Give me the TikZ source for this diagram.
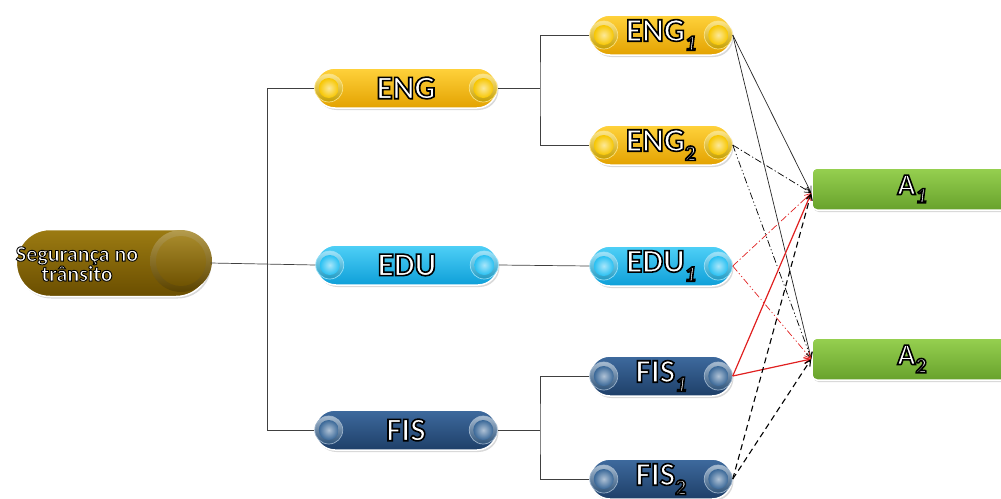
\documentclass[tikz,border=0pt]{standalone}
\usepackage{fontspec}
\setmainfont{Carlito}[BoldFont={Carlito Bold},ItalicFont={Carlito Italic},BoldItalicFont={Carlito Bold Italic}]
\usetikzlibrary{shapes.misc,arrows.meta,shadows,calc}
\definecolor{engT}{HTML}{FFD23C}
\definecolor{engB}{HTML}{E3A200}
\definecolor{engK}{HTML}{F7C600}
\definecolor{eduT}{HTML}{4FD0F7}
\definecolor{eduB}{HTML}{0E9FD8}
\definecolor{eduK}{HTML}{28C0F2}
\definecolor{fisT}{HTML}{3E6A9E}
\definecolor{fisB}{HTML}{1E3F68}
\definecolor{fisK}{HTML}{3A6898}
\definecolor{rootT}{HTML}{9C7B12}
\definecolor{rootB}{HTML}{6A4E00}
\definecolor{aT}{HTML}{96D050}
\definecolor{aB}{HTML}{68A22C}
\definecolor{edgeg}{HTML}{404040}
\definecolor{redl}{HTML}{E02020}
\newcommand\ow[2][1.6]{\special{pdf:literal direct 0 0 0 RG #1 w 2 Tr}#2\special{pdf:literal direct 0 Tr}}
\newcommand\sbi[1]{\raisebox{-0.28em}{\fontsize{22}{22}\selectfont\itshape #1}}
\newcommand\sbu[1]{\raisebox{-0.28em}{\fontsize{22}{22}\selectfont #1}}
\newcommand\oneknob[2]{%
  \shade[top color=#2!45!white, bottom color=#2!80!black, draw=white!50!#2, line width=0.7pt] #1 circle (14pt);
  \shade[inner color=#2!40!white, outer color=#2] #1 circle (10pt);}
\newcommand\knobs[2]{%
  \oneknob{($(#1.west)+(14.5,0)$)}{#2}%
  \oneknob{($(#1.east)+(-14.5,0)$)}{#2}}
\begin{document}
\begin{tikzpicture}[x=1pt,y=-1pt,
  line/.style={draw=edgeg, line width=0.7pt},
  pill/.style={rounded rectangle, draw=white, line width=1.5pt, minimum height=40pt,
     inner sep=0pt, drop shadow={opacity=0.3, shadow xshift=1.5pt, shadow yshift=-2pt},
     font=\fontsize{33}{36}\selectfont\bfseries, text=white},
  p1/.style={pill, minimum width=182pt},
  p2/.style={pill, minimum width=142pt},
  engp/.style={top color=engT, bottom color=engB},
  edup/.style={top color=eduT, bottom color=eduB},
  fisp/.style={top color=fisT, bottom color=fisB},
  abox/.style={rectangle, rounded corners=5pt, draw=white, line width=1.5pt,
     minimum width=200pt, minimum height=42pt, top color=aT, bottom color=aB,
     drop shadow={opacity=0.3, shadow xshift=1.5pt, shadow yshift=-2pt},
     font=\fontsize{30}{32}\selectfont\bfseries, text=white},
  arr/.style={-{Straight Barb[length=6pt,width=6pt]}, line width=0.7pt},
  dd/.style={dash pattern=on 7pt off 2.5pt on 1.2pt off 2.5pt},
  ddd/.style={dash pattern=on 7pt off 2.5pt on 1.2pt off 2.5pt on 1.2pt off 2.5pt},
  dsh/.style={dash pattern=on 6pt off 4pt}
]
\useasboundingbox (0,0) rectangle (1001,498);
\clip (0,0) rectangle (1001,498);
% root
\node[rounded rectangle, draw=white, line width=1.5pt, minimum width=200pt, minimum height=67pt,
  top color=rootT, bottom color=rootB, drop shadow={opacity=0.3, shadow xshift=1.5pt, shadow yshift=-2pt}]
  (root) at (113,263) {};
\shade[top color=rootT!75!white, bottom color=rootB!85!black] (181,261) circle (31pt);
\shade[top color=rootT!90!white, bottom color=rootB!90!rootT] (181,261) circle (25pt);
\node[font=\fontsize{22}{20}\selectfont\bfseries, text=white, align=center, inner sep=0pt]
  (rtxt) at (77,264) {\ow[0.9]{Segurança no\\trânsito}};
% level 1
\node[p1, engp] (eng) at (406,88) {\ow{ENG}};
\node[p1, edup] (edu) at (407,265) {\ow{EDU}};
\node[p1, fisp] (fis) at (406,430) {\ow{FIS}};
% level 2
\node[p2, engp] (eng1) at (661,35) {\ow{ENG\sbi{1}}};
\node[p2, engp] (eng2) at (661,145) {\ow{ENG\sbu{2}}};
\node[p2, edup] (edu1) at (661,266) {\ow{EDU\sbi{1}}};
\node[p2, fisp] (fis1) at (661,376) {\ow{FIS\sbi{1}}};
\node[p2, fisp] (fis2) at (661,479) {\ow{FIS\sbu{2}}};
\knobs{eng}{engK}\knobs{edu}{eduK}\knobs{fis}{fisK}
\knobs{eng1}{engK}\knobs{eng2}{engK}\knobs{edu1}{eduK}\knobs{fis1}{fisK}\knobs{fis2}{fisK}
% targets
\node[abox] (a1) at (912,189) {\ow{A\sbi{1}}};
\node[abox] (a2) at (912,359) {\ow{A\sbu{2}}};
% tree connectors
\draw[line] (root.east) -- (edu.west);
\draw[line] (eng.west) -- ++(-47,0) |- (fis.west);
\coordinate (j1) at (540,88);
\coordinate (j2) at (540,430);
\draw[line] (eng.east) -- (j1);
\draw[line] (eng1.west) -| (j1) |- (eng2.west);
\draw[line] (edu.east) -- (edu1.west);
\draw[line] (fis.east) -- (j2);
\draw[line] (fis1.west) -| (j2) |- (fis2.west);
% arrows
\coordinate (t1) at ([yshift=-4pt]a1.west);
\coordinate (t2) at (a2.west);
\draw[arr, black!85] (eng1.east) -- (t1);
\draw[arr, black!85] (eng1.east) -- (t2);
\draw[arr, black, dd] (eng2.east) -- (t1);
\draw[arr, black, ddd] (eng2.east) -- (t2);
\draw[arr, redl, dd] (edu1.east) -- (t1);
\draw[arr, redl, ddd] (edu1.east) -- (t2);
\draw[arr, redl, line width=1.2pt] (fis1.east) -- (t1);
\draw[arr, redl, line width=1.2pt] (fis1.east) -- (t2);
\draw[arr, black, dsh, line width=1.1pt] (fis2.east) -- (t1);
\draw[arr, black, dsh, line width=1.1pt] (fis2.east) -- (t2);
\end{tikzpicture}
\end{document}
